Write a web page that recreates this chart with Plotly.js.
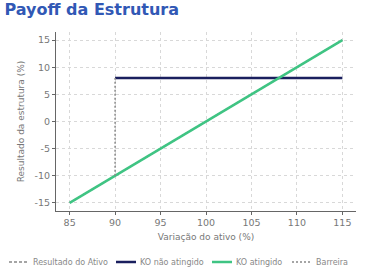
<!DOCTYPE html>
<html>
<head>
<meta charset="utf-8">
<script src="https://cdn.plot.ly/plotly-3.0.1.min.js"></script>
<style>html,body{margin:0;padding:0;background:#fff;}#chart{width:377px;height:273px;}</style>
</head>
<body>
<div id="chart"></div>
<script>
const assetX = [85, 115];
const assetY = [-15, 15];
const koNotX = [90, 115];
const koNotY = [8, 8];
const koX = [85, 115];
const koY = [-15, 15];
const barrierX = [90, 90];
const barrierY = [-10, 8];
const xTicks = [85, 90, 95, 100, 105, 110, 115];
const yTicks = [-15, -10, -5, 0, 5, 10, 15];
const seriesNames = ['Resultado do Ativo', 'KO não atingido', 'KO atingido', 'Barreira'];

const traces = [
  {x: assetX, y: assetY, mode: 'lines', name: seriesNames[0],
   line: {color: '#888888', width: 1.5, dash: '3px,2px'}},
  {x: koNotX, y: koNotY, mode: 'lines', name: seriesNames[1],
   line: {color: '#1a1f5e', width: 2.5}},
  {x: koX, y: koY, mode: 'lines', name: seriesNames[2],
   line: {color: '#3fc483', width: 2.5}},
  {x: barrierX, y: barrierY, mode: 'lines', name: seriesNames[3],
   line: {color: '#888888', width: 1.5, dash: '2px,2px'}}
];

const layout = {
  width: 377, height: 273,
  margin: {l: 56, r: 21, t: 32, b: 62},
  paper_bgcolor: '#fff', plot_bgcolor: '#fff',
  font: {family: 'DejaVu Sans', size: 10, color: '#777'},
  title: {text: '<b>Payoff da Estrutura</b>', x: 0.012, xanchor: 'left', y: 0.985, yanchor: 'top',
          font: {family: 'DejaVu Sans', size: 16, color: '#3158b5'}},
  xaxis: {range: [83.5, 116.5], tickvals: xTicks, ticktext: xTicks.map(String),
          showgrid: true, gridcolor: '#d8d8d8', griddash: '3px,3px', gridwidth: 1,
          zeroline: false, showline: true, linecolor: '#666', linewidth: 1,
          ticks: 'outside', ticklen: 3, tickcolor: '#666', tickfont: {size: 9.5, color: '#777'},
          title: {text: 'Variação do ativo (%)', font: {size: 9, color: '#777'}, standoff: 6}},
  yaxis: {range: [-16.5, 16.5], tickvals: yTicks, ticktext: yTicks.map(String),
          showgrid: true, gridcolor: '#d8d8d8', griddash: '3px,3px', gridwidth: 1,
          zeroline: false, showline: true, linecolor: '#666', linewidth: 1,
          ticks: 'outside', ticklen: 3, tickcolor: '#666', tickfont: {size: 9.5, color: '#777'},
          title: {text: 'Resultado da estrutura (%)', font: {size: 9, color: '#777'}, standoff: 8}},
  legend: {orientation: 'h', x: 0.5, xanchor: 'center', y: 0.5, yanchor: 'middle',
           font: {size: 8, color: '#888'}, itemwidth: 30, bgcolor: 'rgba(0,0,0,0)'},
  showlegend: true
};

// legend entry start positions (px) and row centre, matching the reference
const legendStarts = [9, 116, 212, 292];
const legendRowY = 262;

Plotly.newPlot('chart', traces, layout, {displayModeBar: false, staticPlot: true}).then(gd => {
  const leg = gd.querySelector('.legend');
  if (!leg) return;
  leg.setAttribute('transform', 'translate(0,0)');
  const sb = leg.querySelector('.scrollbox');
  if (sb) { sb.setAttribute('transform', 'translate(0,0)'); sb.removeAttribute('clip-path'); }
  leg.querySelectorAll('[clip-path]').forEach(e => e.removeAttribute('clip-path'));
  const items = leg.querySelectorAll('.traces');
  items.forEach((it, i) => {
    it.setAttribute('transform', `translate(${legendStarts[i]},${legendRowY})`);
    it.querySelectorAll('.legendlines path').forEach(p => p.setAttribute('d', 'M0,0h20'));
    const t = it.querySelector('.legendtext');
    if (t) t.setAttribute('x', '24');
  });
});
</script>
</body>
</html>
